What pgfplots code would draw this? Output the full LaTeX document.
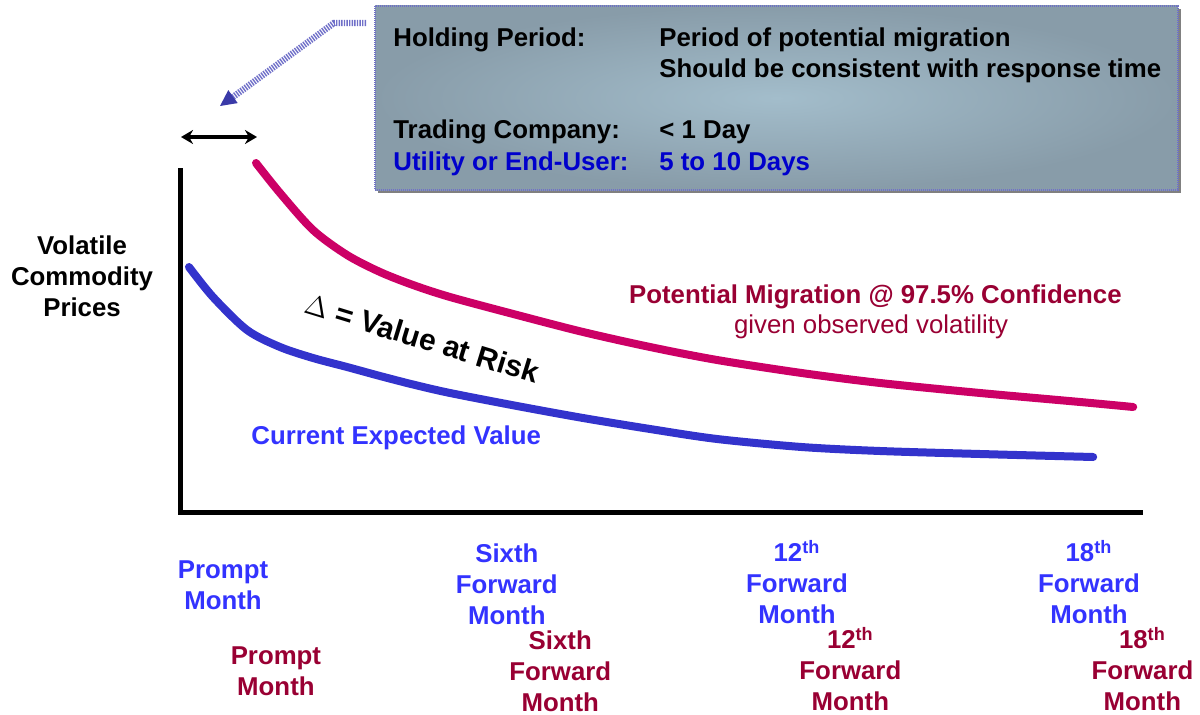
\documentclass[border=0pt]{standalone}
\usepackage{pgfplots}
\pgfplotsset{compat=1.18}
\usepackage{fontspec}
\setmainfont{Liberation Sans}
\usetikzlibrary{arrows.meta}
\definecolor{curveblue}{HTML}{3333CC}
\definecolor{curvered}{HTML}{CC0066}
\definecolor{lblblue}{HTML}{3333FF}
\definecolor{lblred}{HTML}{990033}
\definecolor{boxblue}{HTML}{0000CC}
\definecolor{boxin}{HTML}{A3BDCB}
\definecolor{boxout}{HTML}{889CA9}
\definecolor{dotarrow}{HTML}{6F6FC8}
\definecolor{arrowhead}{HTML}{3A3AA8}
\newcommand{\ordth}{\smash{\textsuperscript{th}}}
\begin{document}
\begin{tikzpicture}[font=\fontsize{12.9}{15.5}\selectfont\bfseries]
\path[use as bounding box] (0,0) rectangle (600pt,357pt);
\begin{axis}[
  at={(90.5pt,101pt)}, anchor=south west,
  scale only axis, width=479.5pt, height=171pt,
  xmin=-0.873, xmax=19.06, ymin=0, ymax=342,
  axis lines=left,
  axis line style={line width=2.5pt, -, black, line cap=rect},
  xtick=\empty, ytick=\empty,
  clip=false,
]
% Current expected value
\addplot[curveblue, line width=4pt, line cap=round, smooth, tension=0.5] table {
-0.707 245
-0.208 215
0.499 182
1.185 165
1.871 154
2.578 145
3.264 136
3.950 127.5
4.719 119
6.112 106
7.484 94
8.877 83
10.270 73
12.027 65
13.659 61
15.738 58
18.087 55
};
% Potential migration
\addplot[curvered, line width=4pt, line cap=round, smooth, tension=0.5] table {
0.686 349
1.185 319
1.871 282
2.578 257
3.264 240
3.950 227
4.719 215
6.112 197
7.484 180
8.877 165
10.270 152
12.027 139
13.659 129
15.738 119
17.817 110
18.919 105
};
% y label
\node[align=center] at (axis cs:-2.93,236) {Volatile\\Commodity\\Prices};
% curve labels
\node[lblblue] at (axis cs:3.60,74) {Current Expected Value};
\node[lblred] at (axis cs:13.56,215) {Potential Migration @ 97.5\% Confidence};
\node[lblred, font=\fontsize{12.9}{15.5}\selectfont\mdseries] at (axis cs:13.47,185) {given observed volatility};
\node[rotate=-17, font=\fontsize{15}{18}\selectfont\bfseries] at (axis cs:4.14,174) {$\Delta$ = Value at Risk};
% blue month labels
\node[lblblue, align=center] at (axis cs:0,-73) {Prompt\\Month};
\node[lblblue, align=center] at (axis cs:5.90,-72) {Sixth\\Forward\\Month};
\node[lblblue, align=center] at (axis cs:11.93,-72) {12\ordth\\Forward\\Month};
\node[lblblue, align=center] at (axis cs:18.0,-72) {18\ordth\\Forward\\Month};
% red month labels
\node[lblred, align=center] at (axis cs:1.10,-159.5) {Prompt\\Month};
\node[lblred, align=center] at (axis cs:7.01,-159) {Sixth\\Forward\\Month};
\node[lblred, align=center] at (axis cs:13.04,-159) {12\ordth\\Forward\\Month};
\node[lblred, align=center] at (axis cs:19.11,-159) {18\ordth\\Forward\\Month};
\end{axis}
\begin{scope}[x=0.5pt, y=-0.5pt, yshift=357pt]
  % box shadow and box
  \fill[black!50] (378,9) rectangle (1181,193);
  \shade[inner color=boxin, outer color=boxout] (375,6) rectangle (1178,190);
  \draw[dotarrow, line width=1pt, dash pattern=on 0.5pt off 0.5pt] (375,6) rectangle (1178,190);
  \node[anchor=base west, inner sep=0] at (393,47) {Holding Period:};
  \node[anchor=base west, inner sep=0] at (659,47) {Period of potential migration};
  \node[anchor=base west, inner sep=0] at (659,78) {Should be consistent with response time};
  \node[anchor=base west, inner sep=0] at (393,139) {Trading Company:};
  \node[anchor=base west, inner sep=0] at (659,139) {< 1 Day};
  \node[anchor=base west, inner sep=0, boxblue] at (393,170) {Utility or End-User:};
  \node[anchor=base west, inner sep=0, boxblue] at (659,170) {5 to 10 Days};
  % dotted pointer arrow
  \draw[dotarrow, line width=3.2pt, dash pattern=on 0.7pt off 0.6pt] (366,23) -- (334,23) -- (233,97);
  \fill[arrowhead] (220,106) -- (237.7,103.1) -- (228.3,90.1) -- cycle;
  % holding period double arrow
  \draw[{Stealth[length=6pt,width=7pt]}-{Stealth[length=6pt,width=7pt]}, line width=1.8pt] (181,137) -- (257,137);
\end{scope}
\end{tikzpicture}
\end{document}
